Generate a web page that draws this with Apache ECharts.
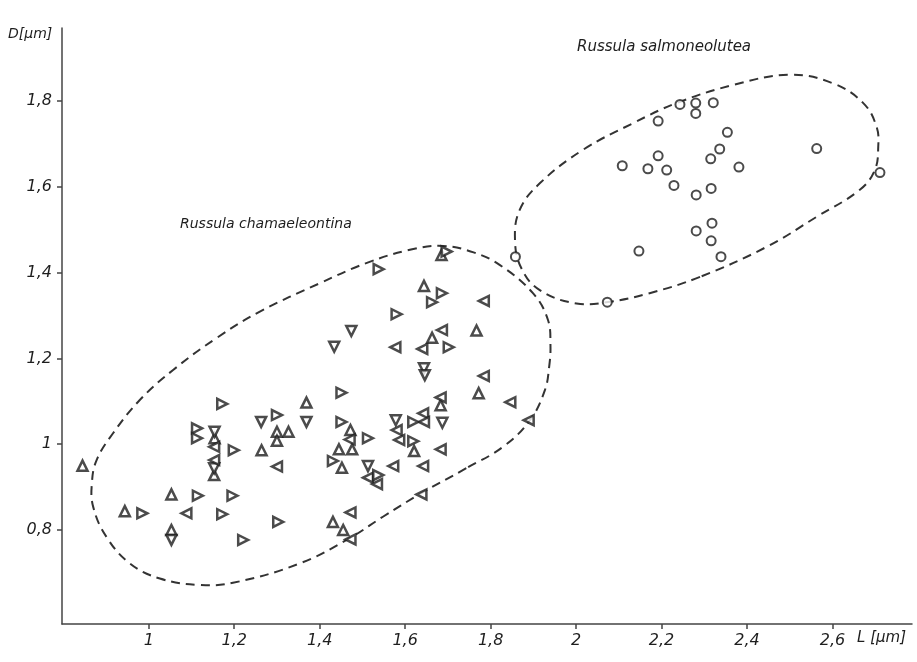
<!DOCTYPE html>
<html>
<head>
<meta charset="utf-8">
<script src="https://cdn.jsdelivr.net/npm/echarts@6/dist/echarts.min.js"></script>
<style>
  html, body { margin: 0; padding: 0; background: #fff; }
  #main { width: 917px; height: 662px; }
</style>
</head>
<body>
<div id="main"></div>
<script>
// axis ticks
var xTicks = [1, 1.2, 1.4, 1.6, 1.8, 2, 2.2, 2.4, 2.6];
var yTicks = [0.8, 1, 1.2, 1.4, 1.6, 1.8];

// Russula chamaeleontina, one list per triangle direction  [L, D]
var upPts = [
  [1.369, 1.097], [1.300, 1.029], [1.327, 1.029], [1.300, 1.008], [1.154, 1.014],
  [1.264, 0.986], [1.153, 0.928], [0.845, 0.950], [1.053, 0.883], [0.944, 0.844],
  [1.053, 0.800], [1.472, 1.033], [1.445, 0.988], [1.476, 0.988], [1.452, 0.945],
  [1.621, 0.984], [1.683, 1.091], [1.772, 1.119], [1.431, 0.819], [1.455, 0.800],
  [1.644, 1.369], [1.663, 1.248], [1.767, 1.265], [1.685, 1.441]
];
var downPts = [
  [1.263, 1.052], [1.369, 1.052], [1.154, 1.029], [1.153, 0.944], [1.513, 0.949],
  [1.578, 1.056], [1.687, 1.050], [1.474, 1.264], [1.434, 1.227], [1.644, 1.177],
  [1.646, 1.161], [1.053, 0.777]
];
var leftPts = [
  [1.153, 0.994], [1.153, 0.963], [1.300, 0.948], [1.088, 0.839], [1.470, 1.011],
  [1.513, 0.922], [1.534, 0.907], [1.572, 0.949], [1.642, 0.949], [1.580, 1.033],
  [1.586, 1.010], [1.642, 1.072], [1.644, 1.052], [1.683, 0.988], [1.683, 1.109],
  [1.846, 1.098], [1.889, 1.056], [1.638, 0.883], [1.472, 0.841], [1.472, 0.778],
  [1.784, 1.334], [1.577, 1.226], [1.640, 1.222], [1.686, 1.266], [1.784, 1.159]
];
var rightPts = [
  [1.172, 1.094], [1.300, 1.068], [1.113, 1.037], [1.113, 1.014], [1.199, 0.986],
  [1.115, 0.880], [1.196, 0.880], [0.985, 0.839], [1.172, 0.837], [1.303, 0.819],
  [1.221, 0.777], [1.451, 1.120], [1.451, 1.052], [1.513, 1.014], [1.431, 0.961],
  [1.537, 0.928], [1.619, 1.052], [1.619, 1.007], [1.697, 1.449], [1.538, 1.408],
  [1.686, 1.352], [1.663, 1.331], [1.580, 1.303], [1.702, 1.226]
];

// Russula salmoneolutea  [L, D]
var circlePts = [
  [2.243, 1.792], [2.280, 1.795], [2.280, 1.771], [2.321, 1.796], [2.192, 1.753],
  [2.354, 1.727], [2.192, 1.672], [2.336, 1.688], [2.315, 1.665], [2.108, 1.649],
  [2.168, 1.642], [2.212, 1.639], [2.381, 1.646], [2.563, 1.689], [2.711, 1.633],
  [2.229, 1.603], [2.316, 1.596], [2.281, 1.581], [2.318, 1.515], [2.281, 1.497],
  [2.316, 1.474], [2.147, 1.450], [2.339, 1.437], [1.858, 1.437], [2.073, 1.331]
];

// dashed outlines round each group  [L, D] (closed curves)
var chamOutline = [
  [1.743, 0.944], [1.638, 0.886], [1.548, 0.831], [1.470, 0.781], [1.353, 0.722],
  [1.197, 0.677], [1.119, 0.672], [1.026, 0.687], [0.956, 0.722], [0.901, 0.784],
  [0.870, 0.854], [0.867, 0.910], [0.878, 0.963], [0.916, 1.025], [0.979, 1.103],
  [1.057, 1.173], [1.158, 1.247], [1.260, 1.309], [1.400, 1.375], [1.509, 1.422],
  [1.611, 1.453], [1.689, 1.462], [1.760, 1.447], [1.821, 1.418], [1.899, 1.352],
  [1.934, 1.290], [1.940, 1.231], [1.937, 1.181], [1.927, 1.126], [1.892, 1.056],
  [1.829, 0.994]
];
var salmOutline = [
  [2.290, 1.390], [2.172, 1.352], [2.079, 1.332], [2.001, 1.328], [1.915, 1.359],
  [1.872, 1.410], [1.857, 1.476], [1.868, 1.546], [1.915, 1.608], [2.016, 1.686],
  [2.133, 1.748], [2.235, 1.795], [2.367, 1.837], [2.500, 1.861], [2.601, 1.841],
  [2.672, 1.795], [2.703, 1.740], [2.707, 1.693], [2.699, 1.639], [2.664, 1.593],
  [2.563, 1.530], [2.446, 1.460]
];

var ink = '#1e1e1e';
var labelFont = 'DejaVu Sans';

function fmt(v) {
  return String(Math.round(v * 10) / 10).replace('.', ',');
}

function triSeries(name, data, rot) {
  return {
    name: name,
    type: 'scatter',
    data: data,
    symbol: 'triangle',
    symbolSize: 10,
    symbolRotate: rot,
    z: 3,
    itemStyle: { color: '#fff', borderColor: ink, borderWidth: 2.5 }
  };
}

/* closed dashed curve, points go through the axes with api.coord */
function outlineSeries(name, outline) {
  return {
    name: name,
    type: 'custom',
    coordinateSystem: 'cartesian2d',
    data: [[outline[0][0], outline[0][1]]],
    z: 2,
    silent: true,
    renderItem: function (params, api) {
      var pts = outline.map(function (p) { return api.coord(p); });
      return {
        type: 'polygon',
        shape: { points: pts, smooth: 0.4 },
        style: { fill: 'none', stroke: '#333', lineWidth: 2, lineDash: [9, 6] }
      };
    }
  };
}

var chart = echarts.init(document.getElementById('main'));
chart.setOption({
  animation: false,
  backgroundColor: '#fff',
  grid: { left: 62, right: 5, top: 28, bottom: 38 },
  xAxis: {
    type: 'value',
    min: 0.797,
    max: 2.786,
    splitLine: { show: false },
    axisLine: { lineStyle: { color: '#444', width: 1.5 } },
    axisTick: { customValues: xTicks, length: 5, lineStyle: { color: '#444', width: 1.5 } },
    axisLabel: {
      customValues: xTicks,
      formatter: fmt,
      margin: 9,
      color: ink,
      fontSize: 16,
      fontStyle: 'italic',
      fontFamily: labelFont
    }
  },
  yAxis: {
    type: 'value',
    min: 0.581,
    max: 1.970,
    splitLine: { show: false },
    axisLine: { lineStyle: { color: '#444', width: 1.5 } },
    axisTick: { customValues: yTicks, length: 5, lineStyle: { color: '#444', width: 1.5 } },
    axisLabel: {
      customValues: yTicks,
      formatter: fmt,
      margin: 10,
      color: ink,
      fontSize: 16,
      fontStyle: 'italic',
      fontFamily: labelFont
    }
  },
  graphic: [
    { type: 'text', left: 8, top: 27, style: { text: 'D[µm]', font: 'italic 14px ' + labelFont, fill: ink } },
    { type: 'text', left: 857, top: 631, style: { text: 'L [µm]', font: 'italic 15px ' + labelFont, fill: ink } },
    { type: 'text', left: 577, top: 40, style: { text: 'Russula salmoneolutea', font: 'italic 15px ' + labelFont, fill: ink } },
    { type: 'text', left: 180, top: 217, style: { text: 'Russula chamaeleontina', font: 'italic 14px ' + labelFont, fill: ink } }
  ],
  series: [
    outlineSeries('chamaeleontina outline', chamOutline),
    outlineSeries('salmoneolutea outline', salmOutline),
    triSeries('up', upPts, 0),
    triSeries('down', downPts, 180),
    triSeries('left', leftPts, 90),
    triSeries('right', rightPts, -90),
    {
      name: 'salmoneolutea',
      type: 'scatter',
      data: circlePts,
      symbol: 'circle',
      symbolSize: 9,
      z: 3,
      itemStyle: { color: '#fff', borderColor: ink, borderWidth: 2 }
    }
  ]
});
</script>
</body>
</html>
